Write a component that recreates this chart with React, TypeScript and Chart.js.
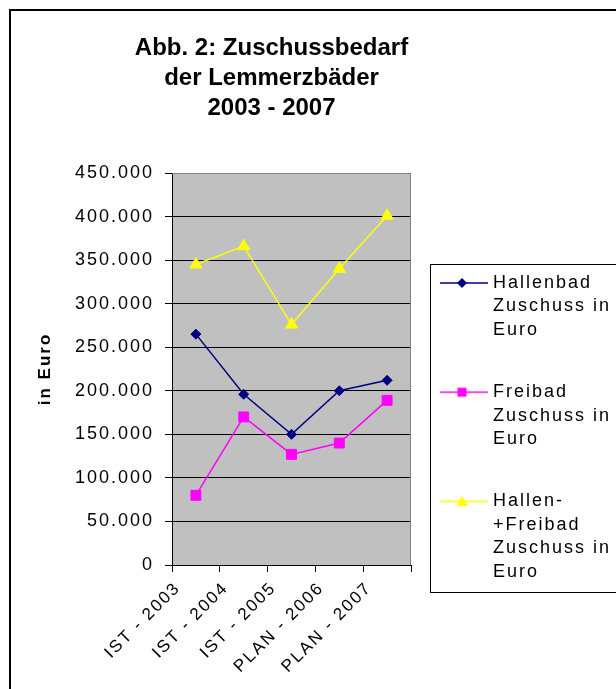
import React, { useEffect, useRef } from 'react';
import { Chart, registerables } from 'chart.js';

Chart.register(...registerables);

const CATEGORIES = ['IST - 2003', 'IST - 2004', 'IST - 2005', 'PLAN - 2006', 'PLAN - 2007'];
const HALLENBAD = [265000, 196000, 150000, 200000, 212000];
const FREIBAD = [80000, 170000, 127000, 140000, 189000];
const GESAMT = [345000, 366000, 276000, 340000, 401000];
const SERIES_LABELS = ['Hallenbad Zuschuss in Euro', 'Freibad Zuschuss in Euro', 'Hallen-+Freibad Zuschuss in Euro'];
const LEGEND_LINES = [
  ['Hallenbad', 'Zuschuss in', 'Euro'],
  ['Freibad', 'Zuschuss in', 'Euro'],
  ['Hallen-', '+Freibad', 'Zuschuss in', 'Euro'],
];
const TITLE_LINES = ['Abb. 2: Zuschussbedarf', 'der Lemmerzbäder', '2003 - 2007'];
const Y_TITLE = 'in Euro';
const Y_MIN = 0;
const Y_MAX = 450000;
const Y_STEP = 50000;

const FONT = "'Liberation Sans', Arial, Helvetica, sans-serif";
const COLORS = ['#000080', '#FF00FF', '#FFFF00'];
const SHAPES = ['diamond', 'square', 'triangle'];

function fmtDe(v: number): string {
  return String(Math.round(v)).replace(/\B(?=(\d{3})+(?!\d))/g, '.');
}

function makeLegendImage(color: string, shape: string): HTMLCanvasElement {
  const c = document.createElement('canvas');
  c.width = 54;
  c.height = 16;
  const g = c.getContext('2d')!;
  g.strokeStyle = color;
  g.lineWidth = 1.5;
  g.beginPath();
  g.moveTo(0, 8);
  g.lineTo(48, 8);
  g.stroke();
  g.fillStyle = color;
  g.beginPath();
  const cx = 22;
  const cy = 8;
  if (shape === 'diamond') {
    g.moveTo(cx, cy - 5);
    g.lineTo(cx + 5, cy);
    g.lineTo(cx, cy + 5);
    g.lineTo(cx - 5, cy);
  } else if (shape === 'square') {
    g.rect(cx - 4.5, cy - 4.5, 9, 9);
  } else {
    g.moveTo(cx, cy - 5.5);
    g.lineTo(cx + 6, cy + 4.5);
    g.lineTo(cx - 6, cy + 4.5);
  }
  g.closePath();
  g.fill();
  return c;
}

const spacingPlugin = {
  id: 'letterSpacingPlugin',
  beforeUpdate(chart: any) {
    chart.ctx.letterSpacing = '2px';
  },
  beforeLayout(chart: any) {
    chart.ctx.letterSpacing = '2px';
  },
  beforeDraw(chart: any) {
    chart.ctx.letterSpacing = '2px';
  },
};

const plotAreaPlugin = {
  id: 'plotAreaPlugin',
  beforeDraw(chart: any) {
    const { ctx, chartArea } = chart;
    ctx.save();
    ctx.fillStyle = '#C0C0C0';
    ctx.fillRect(chartArea.left, chartArea.top, chartArea.right - chartArea.left, chartArea.bottom - chartArea.top);
    ctx.restore();
  },
  beforeDatasetsDraw(chart: any) {
    const { ctx, chartArea } = chart;
    ctx.save();
    ctx.strokeStyle = '#808080';
    ctx.lineWidth = 1;
    ctx.beginPath();
    const r = Math.round(chartArea.right) - 0.5;
    const t = Math.round(chartArea.top) + 0.5;
    ctx.moveTo(Math.round(chartArea.left), t);
    ctx.lineTo(r, t);
    ctx.lineTo(r, Math.round(chartArea.bottom));
    ctx.stroke();
    ctx.restore();
  },
};

const titlePlugin = {
  id: 'titlePlugin',
  afterDraw(chart: any) {
    const { ctx } = chart;
    ctx.save();
    ctx.letterSpacing = '0px';
    ctx.font = `bold 24px ${FONT}`;
    ctx.fillStyle = '#000';
    ctx.textAlign = 'center';
    ctx.textBaseline = 'alphabetic';
    TITLE_LINES.forEach((t, i) => ctx.fillText(t, 271.5, 55 + i * 30));
    ctx.restore();
  },
};

const legendBoxPlugin = {
  id: 'legendBoxPlugin',
  afterDraw(chart: any) {
    const legend = chart.legend;
    if (!legend || !legend.legendHitBoxes || !legend.legendHitBoxes.length) return;
    const hb = legend.legendHitBoxes;
    const first = hb[0];
    const last = hb[hb.length - 1];
    const { ctx } = chart;
    const left = Math.round(legend.left + 19) + 0.5;
    const top = Math.round(first.top - 10) + 0.5;
    const bottom = Math.round(last.top + last.height + 6) + 0.5;
    ctx.save();
    ctx.strokeStyle = '#000';
    ctx.lineWidth = 1;
    ctx.strokeRect(left, top, 400, bottom - top);
    ctx.restore();
  },
};

export default function App() {
  const canvasRef = useRef<HTMLCanvasElement | null>(null);

  useEffect(() => {
    const canvas = canvasRef.current;
    if (!canvas) return;
    const legendImages = COLORS.map((c, i) => makeLegendImage(c, SHAPES[i]));
    const pointStyles = ['rectRot', 'rect', 'triangle'];
    const radii = [5, 7, 7];
    const seriesData = [HALLENBAD, FREIBAD, GESAMT];

    const chart = new Chart(canvas, {
      type: 'line',
      data: {
        labels: CATEGORIES,
        datasets: seriesData.map((d, i) => ({
          label: SERIES_LABELS[i],
          data: d,
          borderColor: COLORS[i],
          backgroundColor: COLORS[i],
          pointBackgroundColor: COLORS[i],
          pointBorderColor: COLORS[i],
          pointStyle: pointStyles[i] as any,
          pointRadius: radii[i],
          pointBorderWidth: 1,
          borderWidth: 1.5,
          tension: 0,
          fill: false,
        })),
      },
      options: {
        responsive: false,
        animation: false,
        events: [],
        layout: { padding: { left: 31, top: 173, right: 0, bottom: 2 } },
        plugins: {
          title: { display: false },
          tooltip: { enabled: false },
          legend: {
            display: true,
            position: 'right',
            align: 'center',
            maxWidth: 205,
            labels: {
              usePointStyle: true,
              pointStyleWidth: 34,
              padding: 39,
              color: '#000',
              font: { family: FONT, size: 18, lineHeight: 1.3 },
              generateLabels: (ch: any) =>
                ch.data.datasets.map((ds: any, i: number) => ({
                  text: LEGEND_LINES[i],
                  pointStyle: legendImages[i],
                  fillStyle: 'transparent',
                  strokeStyle: 'transparent',
                  lineWidth: 0,
                  hidden: false,
                  datasetIndex: i,
                  fontColor: '#000',
                })),
            },
          },
        },
        scales: {
          x: {
            type: 'category',
            offset: true,
            grid: {
              display: true,
              offset: true,
              drawOnChartArea: false,
              drawTicks: true,
              tickLength: 7,
              color: '#000',
              lineWidth: 1,
            },
            border: { display: true, color: '#000', width: 1 },
            ticks: {
              color: '#000',
              font: { family: FONT, size: 17 },
              minRotation: 45,
              maxRotation: 45,
              autoSkip: false,
              padding: 6,
              labelOffset: -18,
            },
            afterFit: (s: any) => {
              s.height = 122;
            },
          },
          y: {
            min: Y_MIN,
            max: Y_MAX,
            ticks: {
              stepSize: Y_STEP,
              color: '#000',
              font: { family: FONT, size: 18 },
              padding: 11,
              callback: (v: any) => fmtDe(Number(v)),
            },
            grid: {
              color: (c: any) => (c.tick && c.tick.value === Y_MAX ? '#808080' : '#000'),
              tickColor: '#000',
              tickLength: 7,
              lineWidth: 1,
              drawTicks: true,
            },
            border: { display: true, color: '#000', width: 1 },
            title: {
              display: true,
              text: Y_TITLE,
              color: '#000',
              font: { family: FONT, size: 17, weight: 'bold' },
              padding: { top: 4, bottom: 4 },
            },
            afterFit: (s: any) => {
              s.width = 141;
            },
          },
        },
      } as any,
      plugins: [spacingPlugin, plotAreaPlugin, titlePlugin, legendBoxPlugin],
    });
    return () => chart.destroy();
  }, []);

  return (
    <div
      style={{
        position: 'fixed',
        left: 0,
        top: 0,
        width: 616,
        height: 689,
        overflow: 'hidden',
        background: '#fff',
      }}
    >
      <canvas ref={canvasRef} width={616} height={689} style={{ display: 'block', width: 616, height: 689 }} />
      <div
        style={{
          position: 'absolute',
          left: 9,
          top: 9,
          width: 700,
          height: 800,
          border: '2px solid #000',
          pointerEvents: 'none',
        }}
      />
    </div>
  );
}
